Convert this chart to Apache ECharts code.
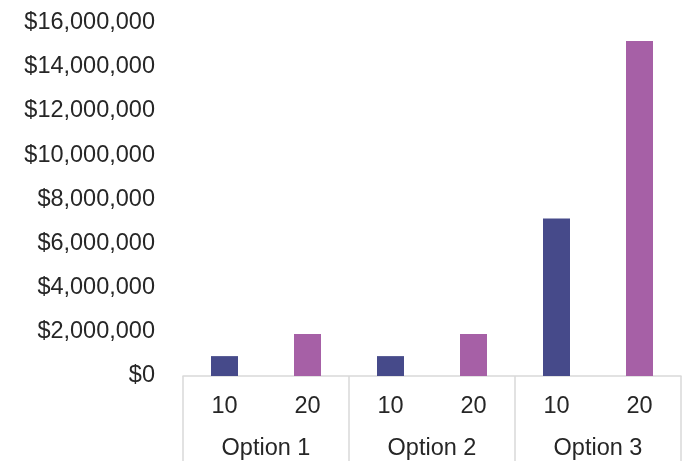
<!DOCTYPE html>
<html>
<head>
<meta charset="utf-8">
<script src="https://cdn.jsdelivr.net/npm/echarts@6/dist/echarts.min.js"></script>
<style>
  html, body { margin: 0; padding: 0; background: #fff; }
  #chart { width: 684px; height: 461px; }
</style>
</head>
<body>
<div id="chart"></div>
<script>
// Inner category row (years) and outer grouping row (options)
const yearLabels = ['10', '20', '10', '20', '10', '20'];
const optionLabels = ['Option 1', 'Option 2', 'Option 3'];

// Cost per option for each horizon
const values10 = [900000, 900000, 7130000];
const values20 = [1900000, 1900000, 15160000];

// Value-axis ticks
const yMin = 0;
const yMax = 16000000;
const yStep = 2000000;

const BLUE = '#464a8a';
const PURPLE = '#a660a6';
const TEXT = '#262626';
const LINE = '#d9d9d9';
const FONT = '"Liberation Sans", Arial, sans-serif';
const FS = 23.5;

// Spread each option's values over its two inner slots
const data10 = [], data20 = [];
optionLabels.forEach((_, i) => {
  data10.push(values10[i], '-');
  data20.push('-', values20[i]);
});

const fmtMoney = v => '$' + Math.round(v).toString().replace(/\B(?=(\d{3})+(?!\d))/g, ',');

const chart = echarts.init(document.getElementById('chart'), null, { renderer: 'canvas' });
chart.setOption({
  animation: false,
  backgroundColor: '#ffffff',
  textStyle: { fontFamily: FONT },
  grid: { left: 183, right: 3, top: 22.5, bottom: 84, containLabel: false },
  xAxis: [
    {
      type: 'category',
      data: yearLabels,
      position: 'bottom',
      axisLine: { show: true, lineStyle: { color: LINE, width: 1.5 } },
      axisTick: { show: false },
      axisLabel: { color: TEXT, fontSize: FS, fontFamily: FONT, margin: 19 }
    },
    {
      type: 'category',
      data: optionLabels,
      position: 'bottom',
      offset: 0,
      axisLine: { show: false },
      axisTick: { show: true, length: 90, lineStyle: { color: LINE, width: 1.5 } },
      axisLabel: { color: TEXT, fontSize: FS, fontFamily: FONT, margin: 61 }
    }
  ],
  yAxis: {
    type: 'value',
    min: yMin,
    max: yMax,
    interval: yStep,
    axisLine: { show: false },
    axisTick: { show: false },
    splitLine: { show: false },
    axisLabel: {
      color: TEXT, fontSize: FS, fontFamily: FONT, margin: 28,
      padding: [4, 0, 0, 0],
      formatter: fmtMoney
    }
  },
  series: [
    {
      name: '10',
      type: 'bar',
      xAxisIndex: 0,
      data: data10,
      barWidth: 27,
      barGap: '-100%',
      itemStyle: { color: BLUE }
    },
    {
      name: '20',
      type: 'bar',
      xAxisIndex: 0,
      data: data20,
      barWidth: 27,
      barGap: '-100%',
      itemStyle: { color: PURPLE }
    }
  ]
});
</script>
</body>
</html>
